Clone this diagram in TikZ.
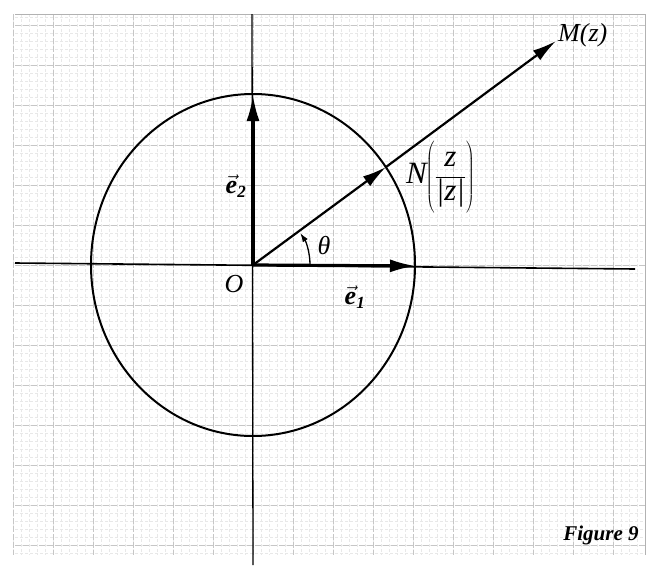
\documentclass[tikz,border=0pt]{standalone}
\usepackage{fontspec}
\setmainfont{Liberation Serif}
\usetikzlibrary{arrows.meta}
\begin{document}
\begin{tikzpicture}[x=1pt,y=-1pt,
  minorline/.style={gray!18,line width=0.4pt,dash pattern=on 3pt off 2pt},
  majorline/.style={gray!45,line width=0.6pt,dash pattern=on 6pt off 2pt},
  axisline/.style={line width=1.6pt},
  vecline/.style={line width=3.2pt,-{Latex[length=26pt,width=13pt]}},
  raylinethin/.style={line width=2.2pt,-{Latex[length=24pt,width=12pt]}},
  lab/.style={font=\fontsize{26}{28}\selectfont\itshape,inner sep=1pt},
  bigl/.style={font=\fontsize{31}{33}\selectfont\itshape,inner sep=0pt}]
\useasboundingbox (0,0) rectangle (653,565);
\fill[white] (0,0) rectangle (653,565);
% graph paper
\foreach \x in {13,21,...,645} \draw[minorline] (\x,14) -- (\x,555);
\foreach \y in {17,25,...,553} \draw[minorline] (15,\y) -- (645,\y);
\foreach \x in {13,53,...,613} \draw[majorline] (\x,14) -- (\x,555);
\foreach \y in {25,65,...,545} \draw[majorline] (15,\y) -- (645,\y);
\draw[gray!60,line width=0.7pt] (15,14) -- (645,14);
\draw[gray!60,line width=0.7pt] (645,14) -- (645,555);
% points
\coordinate (O) at (253,265);
\coordinate (AL) at (15,263);
\coordinate (AR) at (635,269);
\coordinate (AT) at (252,14);
\coordinate (AB) at (253,565);
\coordinate (E1) at (416,266);
\coordinate (E2) at (253,95);
\coordinate (N) at (386,167);
\coordinate (M) at (556,41);
\coordinate (T0) at (310,265);
% axes
\draw[axisline] (AL) -- (AR);
\draw[line width=1.3pt] (AT) -- (AB);
% circle
\draw[line width=2pt] (O) ellipse[x radius=162,y radius=171];
% vectors
\draw[vecline] (O) -- (E1);
\draw[vecline] (O) -- (E2);
\draw[raylinethin] (O) -- (N);
\draw[raylinethin] (N) -- (M);
% angle
\draw[line width=1.3pt,-{Latex[length=9pt,width=6pt]}] (T0) arc[start angle=0,end angle=-34,radius=57];
% labels
\node[lab] (lO) at (234,284) {O};
\node[lab] (lth) at (324,246) {θ};
\node[lab] (le1) at (355,297) {$\vec{\mbox{\textbf{\textit{e}}}}_{\mbox{\fontsize{17}{18}\selectfont\textbf{1}}}$};
\node[lab] (le2) at (236,186) {$\vec{\mbox{\textbf{\textit{e}}}}_{\mbox{\fontsize{17}{18}\selectfont\textbf{2}}}$};
\node[bigl,anchor=base west] (lN) at (406,183) {N\kern-1pt$\left(\displaystyle\frac{\mbox{\textit{z}}}{\mbox{|\textit{z}|}}\rule[-30pt]{0pt}{66pt}\right)$};
\node[lab,anchor=base west] (lM) at (557,41) {M(z)};
\node[font=\fontsize{21}{23}\selectfont\bfseries\itshape] (fig) at (601,535) {Figure 9};
\end{tikzpicture}
\end{document}
